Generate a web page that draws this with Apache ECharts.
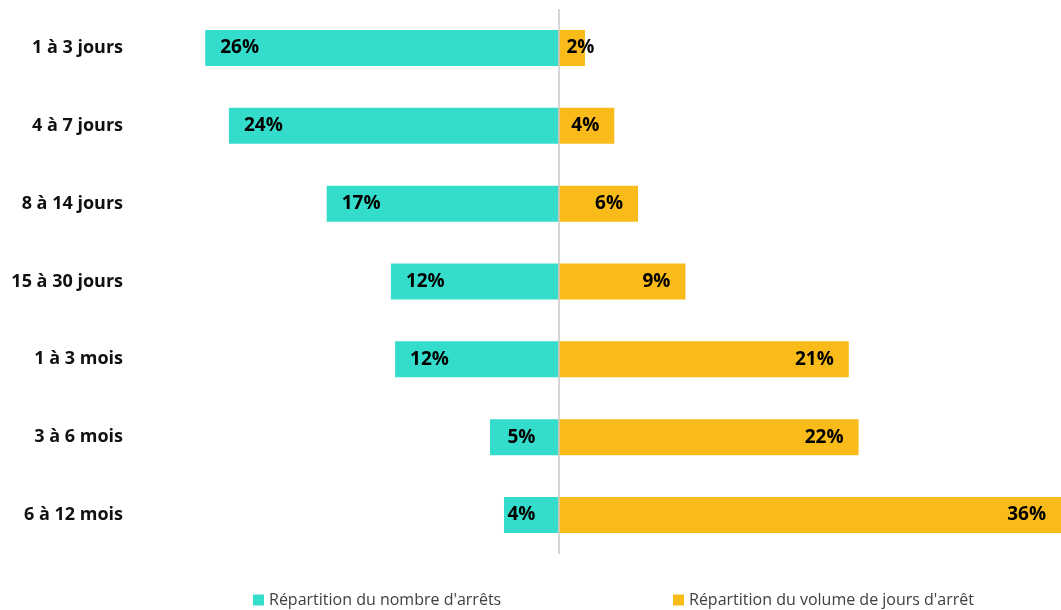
<!DOCTYPE html>
<html>
<head>
<meta charset="utf-8">
<script src="https://cdn.jsdelivr.net/npm/echarts@6/dist/echarts.min.js"></script>
<style>
html,body{margin:0;padding:0;background:#fff;}
#chart{width:1061px;height:610px;}
</style>
</head>
<body>
<div id="chart"></div>
<script>
const categories = ['1 à 3 jours','4 à 7 jours','8 à 14 jours','15 à 30 jours','1 à 3 mois','3 à 6 mois','6 à 12 mois'];
const countShare = [25.3, 23.6, 16.6, 12.0, 11.7, 4.9, 3.9];
const countLabels = ['26%','24%','17%','12%','12%','5%','4%'];
const volumeShare = [1.9, 4.0, 5.7, 9.1, 20.8, 21.5, 36.0];
const volumeLabels = ['2%','4%','6%','9%','21%','22%','36%'];
const seriesNames = ["Répartition du nombre d'arrêts", "Répartition du volume de jours d'arrêt"];

const FONT = '"Open Sans", Lato, sans-serif';
const labelFont = {fontFamily:FONT, fontWeight:'bold', fontSize:19, color:'#000'};

const tealData = countShare.map((v,i)=>{
  const item = {value:-v};
  if (v < 6) item.label = {position:'insideRight', distance:23};
  return item;
});
const orangeData = volumeShare.map((v,i)=>{
  const item = {value:v};
  if (v < 3) item.label = {position:'insideLeft', distance:8};
  return item;
});

const legendText = {fontFamily:FONT, fontSize:16, color:'#404040'};

const chart = echarts.init(document.getElementById('chart'));
chart.setOption({
  animation:false,
  grid:{left:0,right:0,top:9,height:545,containLabel:false},
  xAxis:{type:'value',min:-40,max:36,show:false},
  yAxis:{type:'category',data:categories,inverse:true,
    axisLine:{show:false},axisTick:{show:false},splitLine:{show:false},
    axisLabel:{inside:true,align:'right',margin:123,fontFamily:FONT,fontWeight:'bold',fontSize:18,color:'#111'}},
  legend:[
    {data:[seriesNames[0]],left:253,top:592,padding:0,icon:'rect',itemWidth:11,itemHeight:11,textStyle:legendText},
    {data:[seriesNames[1]],left:673,top:592,padding:0,icon:'rect',itemWidth:11,itemHeight:11,textStyle:legendText}
  ],
  series:[
    {name:seriesNames[0],type:'bar',stack:'t',barWidth:36,data:tealData,
      itemStyle:{color:'#34ddcb'},
      label:Object.assign({show:true,position:'insideLeft',distance:15,formatter:p=>countLabels[p.dataIndex]},labelFont),
      markLine:{silent:true,symbol:'none',label:{show:false},lineStyle:{color:'#c8c8c8',type:'solid',width:1.5},data:[{xAxis:0}]}
    },
    {name:seriesNames[1],type:'bar',stack:'t',barWidth:36,data:orangeData,
      itemStyle:{color:'#f9bb1a'},
      label:Object.assign({show:true,position:'insideRight',distance:15,formatter:p=>volumeLabels[p.dataIndex]},labelFont)
    }
  ]
});
</script>
</body>
</html>
